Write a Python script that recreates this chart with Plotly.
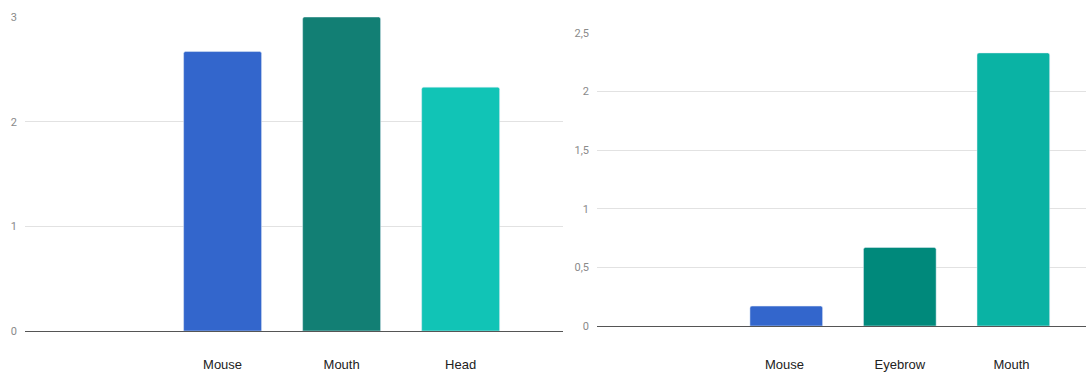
import plotly.graph_objects as go

W, H = 1086, 374

left_categories = ["", "Mouse", "Mouth", "Head"]
left_values = [None, 2.67, 3.0, 2.33]
left_colors = ["#3366CC", "#3366CC", "#127F74", "#11C4B6"]

right_categories = [" ", "Mouse ", "Eyebrow", "Mouth "]
right_values = [None, 0.17, 0.67, 2.33]
right_colors = ["#3366CC", "#3366CC", "#00897B", "#0AB3A4"]

left_ticks = [0, 1, 2, 3]
right_ticks = [0, 0.5, 1, 1.5, 2, 2.5]

fig = go.Figure()
fig.add_trace(go.Bar(x=left_categories, y=left_values, marker=dict(color=left_colors, cornerradius=2),
                     width=0.655, xaxis="x", yaxis="y", showlegend=False))
fig.add_trace(go.Bar(x=right_categories, y=right_values, marker=dict(color=right_colors, cornerradius=2),
                     width=0.64, xaxis="x2", yaxis="y2", showlegend=False))

def px_x(p):
    return p / W

def px_y(p):
    return (H - p) / H

tickfont_y = dict(family="Roboto, Arial, sans-serif", size=11, color="#8a8a8a")
tickfont_x = dict(family="Arial, Liberation Sans, sans-serif", size=13, color="#222222")

fig.update_layout(
    width=W, height=H,
    margin=dict(l=0, r=0, t=0, b=0, autoexpand=False),
    paper_bgcolor="white", plot_bgcolor="white",
    separators=",.",
    xaxis=dict(domain=[px_x(25), px_x(563)], type="category", range=[-0.66, 3.86],
               showgrid=False, zeroline=False, showline=False, ticks="", automargin=False,
               tickfont=tickfont_x, ticklabelstandoff=24, fixedrange=True),
    yaxis=dict(domain=[px_y(331), px_y(17)], range=[0, 3], tickvals=left_ticks,
               showgrid=True, gridcolor="#e2e2e2", gridwidth=1,
               zeroline=True, zerolinecolor="#555555", zerolinewidth=1.2, automargin=False,
               showline=False, ticks="", tickfont=tickfont_y, ticklabelstandoff=7,
               anchor="x", fixedrange=True),
    xaxis2=dict(domain=[px_x(597), 1.0], type="category", range=[-0.667, 3.64],
                showgrid=False, zeroline=False, showline=False, ticks="", automargin=False,
                tickfont=tickfont_x, ticklabelstandoff=29, anchor="y2", fixedrange=True),
    yaxis2=dict(domain=[px_y(326), px_y(33)], range=[0, 2.5], tickvals=right_ticks,
                showgrid=True, gridcolor="#e2e2e2", gridwidth=1,
                zeroline=True, zerolinecolor="#555555", zerolinewidth=1.2, automargin=False,
                showline=False, ticks="", tickfont=tickfont_y, ticklabelstandoff=7,
                anchor="x2", fixedrange=True),
)

fig.write_html("out.html", config={"displayModeBar": False})
